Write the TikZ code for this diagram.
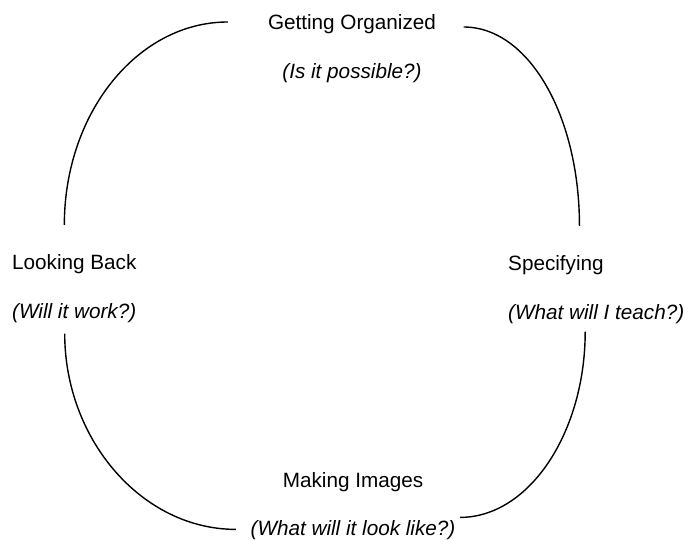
\documentclass[tikz,border=0pt]{standalone}
\usepackage{fontspec}
\setmainfont{Liberation Sans}
\usepackage{tikz}
\usetikzlibrary{positioning}

\begin{document}
\begin{tikzpicture}[
        x=1pt, y=-1pt,
        node distance=29pt,
        stage/.style={
            font=\fontsize{20.7pt}{24pt}\selectfont,
            inner sep=0pt,
            text height=15pt,
            text depth=4pt
        },
        question/.style={
            stage,
            font=\fontsize{20.7pt}{24pt}\selectfont\itshape
        },
        cycle/.style={line width=1.4pt}
    ]

        \useasboundingbox (0,0) rectangle (689,540);

        % ---- Nodes ----
        \node[stage, anchor=base] (org) at (352,30) {Getting Organized};
        \node[question, below=of org] (orgq) {(Is it possible?)};

        \node[stage, anchor=base west] (back) at (12,270) {Looking Back};
        \node[question, below=of back.south west, anchor=north west] (backq) {(Will it work?)};

        \node[stage, anchor=base west] (spec) at (508,271) {Specifying};
        \node[question, below=of spec.south west, anchor=north west] (specq) {(What will I teach?)};

        \node[stage, anchor=base] (make) at (353,487) {Making Images};
        \node[question, below=of make] (makeq) {(What will it look like?)};

        % ---- Arcs ----
        \draw[cycle] ([xshift=-40pt,yshift=2.5pt]org.west)
            .. controls +(-90,0) and +(0,-112) .. ([xshift=-10pt,yshift=30pt]back.north);
        \draw[cycle] ([xshift=27.5pt,yshift=-2.5pt]org.east)
            .. controls +(65,0) and +(0,-110) .. ([xshift=23.5pt,yshift=30pt]spec.north);
        \draw[cycle] ([xshift=-11pt,yshift=-8pt]specq.south)
            .. controls +(0,101) and +(69,0) .. ([xshift=4.5pt,yshift=12.5pt]makeq.east);
        \draw[cycle] ([xshift=-9.5pt,yshift=-11pt]backq.south)
            .. controls +(0,106) and +(-94,0) .. ([xshift=-14.5pt,yshift=0.5pt]makeq.west);

    \end{tikzpicture}
\end{document}
